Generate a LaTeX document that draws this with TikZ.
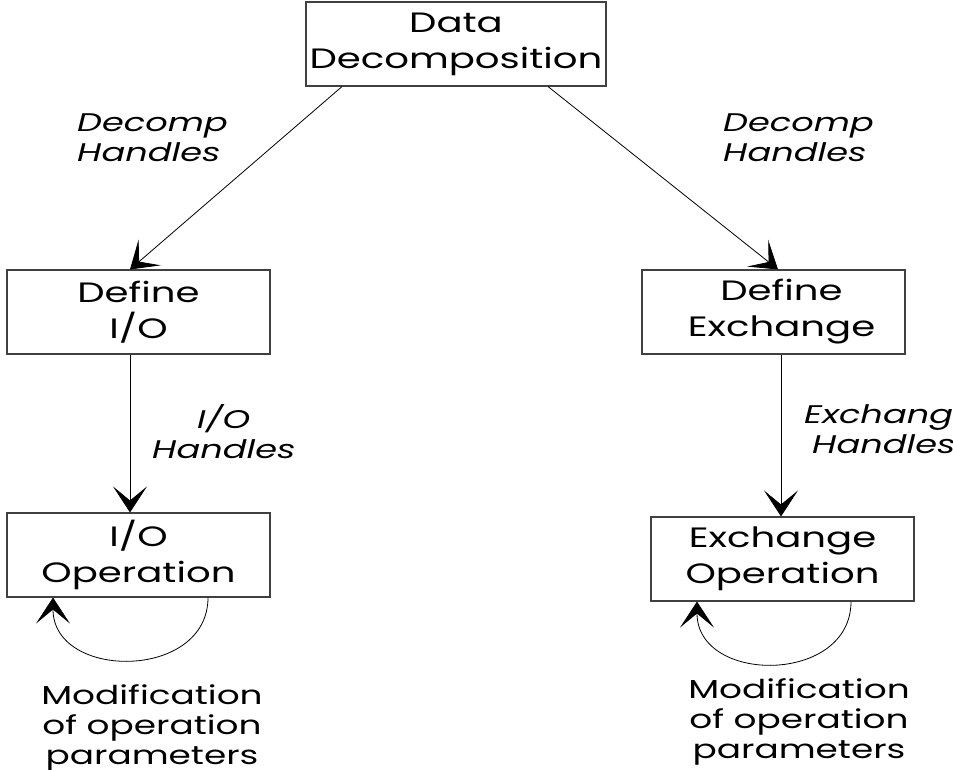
\documentclass[tikz,border=0pt]{standalone}
\usepackage{fontspec}
\setmainfont{Poppins}[FakeStretch=1.38]
\usetikzlibrary{arrows.meta, positioning}

\begin{document}
\begin{tikzpicture}[x=1pt, y=-1pt,
  box/.style={draw=black!75, line width=1.1pt, minimum width=263pt,
    minimum height=84pt, align=center, inner sep=0pt,
    font=\fontsize{28}{36}\selectfont},
  lbl/.style={anchor=north west, align=left, inner sep=0pt,
    font=\fontsize{25.5}{30}\selectfont\itshape},
  note/.style={anchor=north, align=center, inner sep=0pt,
    font=\fontsize{26}{30}\selectfont},
  arr/.style={-{Stealth[length=26pt, width=34pt, inset=14pt]}, line width=0.8pt}]
  \useasboundingbox (0,0) rectangle (953,769);

  % the boxes
  \node[box, minimum width=300pt] (dd) at (456,44) {Data\\Decomposition};
  \node[box] (dio) at (138.5,312) {Define\\I/O};
  \node[box] (dex) at (773.5,312) {\hspace*{16pt}Define\\\hspace*{16pt}Exchange};
  \node[box] (iop) at (138.5,555) {I/O\\Operation};
  \node[box] (eop) at (782.5,559) {Exchange\\Operation};

  % arrows between the boxes
  \draw[arr] ([xshift=-114pt]dd.south) -- ([xshift=-8.5pt]dio.north);
  \draw[arr] ([xshift=92pt]dd.south) -- ([xshift=4.5pt]dex.north);
  \draw[arr] ([xshift=-8.5pt]dio.south) -- ([xshift=-8.5pt]iop.north);
  \draw[arr] ([xshift=7.5pt]dex.south) -- ([xshift=-1.5pt]eop.north);

  % loops under the operations
  \draw[arr] ([xshift=69.5pt]iop.south) .. controls +(0,83) and +(0,83) .. ([xshift=-85.5pt]iop.south);
  \draw[arr] ([xshift=68.5pt]eop.south) .. controls +(0,83) and +(0,83) .. ([xshift=-85.5pt]eop.south);

  % labels
  \node[lbl] (dhl) at (77,114) {Decomp\\Handles};
  \node[lbl] (dhr) at (723,114) {Decomp\\Handles};
  \node[lbl] (ioh) at (152,404) {\hspace*{45pt}I/O\\Handles};
  \node[lbl] (exh) at (804,404) {Exchange\\\hspace*{8pt}Handles};
  \node[note] (ml) at (152,684) {Modification\\of operation\\parameters};
  \node[note] (mr) at (799,678) {Modification\\of operation\\parameters};
\end{tikzpicture}
\end{document}
